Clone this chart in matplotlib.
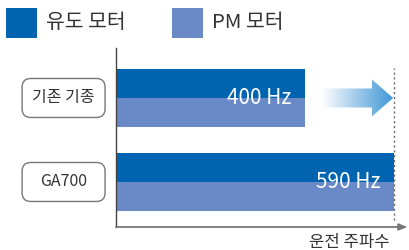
import numpy as np
import matplotlib
matplotlib.use('Agg')
import matplotlib.pyplot as plt
from matplotlib.patches import Polygon, FancyBboxPatch, Rectangle
from matplotlib.colors import LinearSegmentedColormap
import matplotlib.transforms as mtrans

plt.rcParams['font.family'] = ['Noto Sans CJK KR', 'DejaVu Sans']

# data
models = ['기존 기종', 'GA700']
freq = [400, 590]            # Hz, same for both motor types
series = ['유도 모터', 'PM 모터']
colors = ['#0064B0', '#6A8AC7']
xlabel = '운전 주파수'

W, H = 409, 250
fig = plt.figure(figsize=(W/100, H/100), dpi=100)
ax = fig.add_axes([116/W, 23/H, 288/W, 179/H])

ypos = [1, 0]
h = 0.345
for y, f in zip(ypos, freq):
    ax.barh(y, f, height=h, align='edge', color=colors[0], lw=0)
    ax.barh(y, f, height=-h, align='edge', color=colors[1], lw=0)
    ax.text(f - 28, y, f'{f} Hz', color='white', fontsize=15,
            ha='right', va='center')

ax.set_xticks([])
ax.set_yticks([])
for s in ['top', 'right', 'bottom']:
    ax.spines[s].set_visible(False)
ax.spines['left'].set_color('#444444')
ax.spines['left'].set_linewidth(1.0)

# x axis arrow
ax.annotate('', xy=(1.012, 0), xytext=(0, 0), xycoords='axes fraction',
            arrowprops=dict(arrowstyle='-|>,head_length=0.5,head_width=0.2',
                            color='#777777', lw=1.3, shrinkA=0, shrinkB=0),
            annotation_clip=False)
ax.text(0.95, -0.085, xlabel, transform=ax.transAxes, ha='right', va='center',
        fontsize=12, color='#333333')

# dotted limit line
ax.axvline(freq[1], ymin=0.039, ymax=0.888, color='#666666', lw=1.0,
           ls=(0, (1.5, 2)))

# gradient arrow from old to new frequency
y0 = ypos[0]
x_start, x_neck, x_tip = 437, 543, 588
bh, hh = 0.113, 0.22
arrow = Polygon([[x_start, y0 - bh], [x_neck, y0 - bh], [x_neck, y0 - hh],
                 [x_tip, y0], [x_neck, y0 + hh], [x_neck, y0 + bh],
                 [x_start, y0 + bh]], closed=True, facecolor='none',
                edgecolor='none')
ax.add_patch(arrow)
cmap = LinearSegmentedColormap.from_list('g', ['#FFFFFF', '#9CC8EA', '#3E98D6'])
grad = np.linspace(0, 1, 256).reshape(1, -1)
im = ax.imshow(grad, cmap=cmap, aspect='auto',
               extent=[x_start, x_tip, y0 - hh, y0 + hh], zorder=3)
im.set_clip_path(arrow)
ax.set_xlim(0, 611)
ax.set_ylim(-0.536, 1.595)

# model label boxes
trans = mtrans.blended_transform_factory(ax.transAxes, ax.transData)
bw, bhgt = 0.288, 0.464
for y, m in zip(ypos, models):
    box = FancyBboxPatch((-0.326, y - bhgt/2), bw, bhgt,
                         boxstyle='round,pad=0,rounding_size=0.03',
                         mutation_aspect=288/84, transform=trans,
                         facecolor='white', edgecolor='#777777', lw=1.0,
                         clip_on=False)
    ax.add_patch(box)
    ax.text(-0.326 + bw/2, y, m, transform=trans, ha='center', va='center',
            fontsize=11.5, color='#333333')

# legend
for x0, c, l in zip([6, 172], colors, series):
    fig.patches.append(Rectangle((x0/W, 1 - 38/H), 31/W, 30/H, facecolor=c,
                                 edgecolor='none', transform=fig.transFigure))
    fig.text((x0 + 40)/W, 1 - 23/H, l, ha='left', va='center', fontsize=14.7,
             color='#333333')

fig.savefig('out.png', dpi=100)
